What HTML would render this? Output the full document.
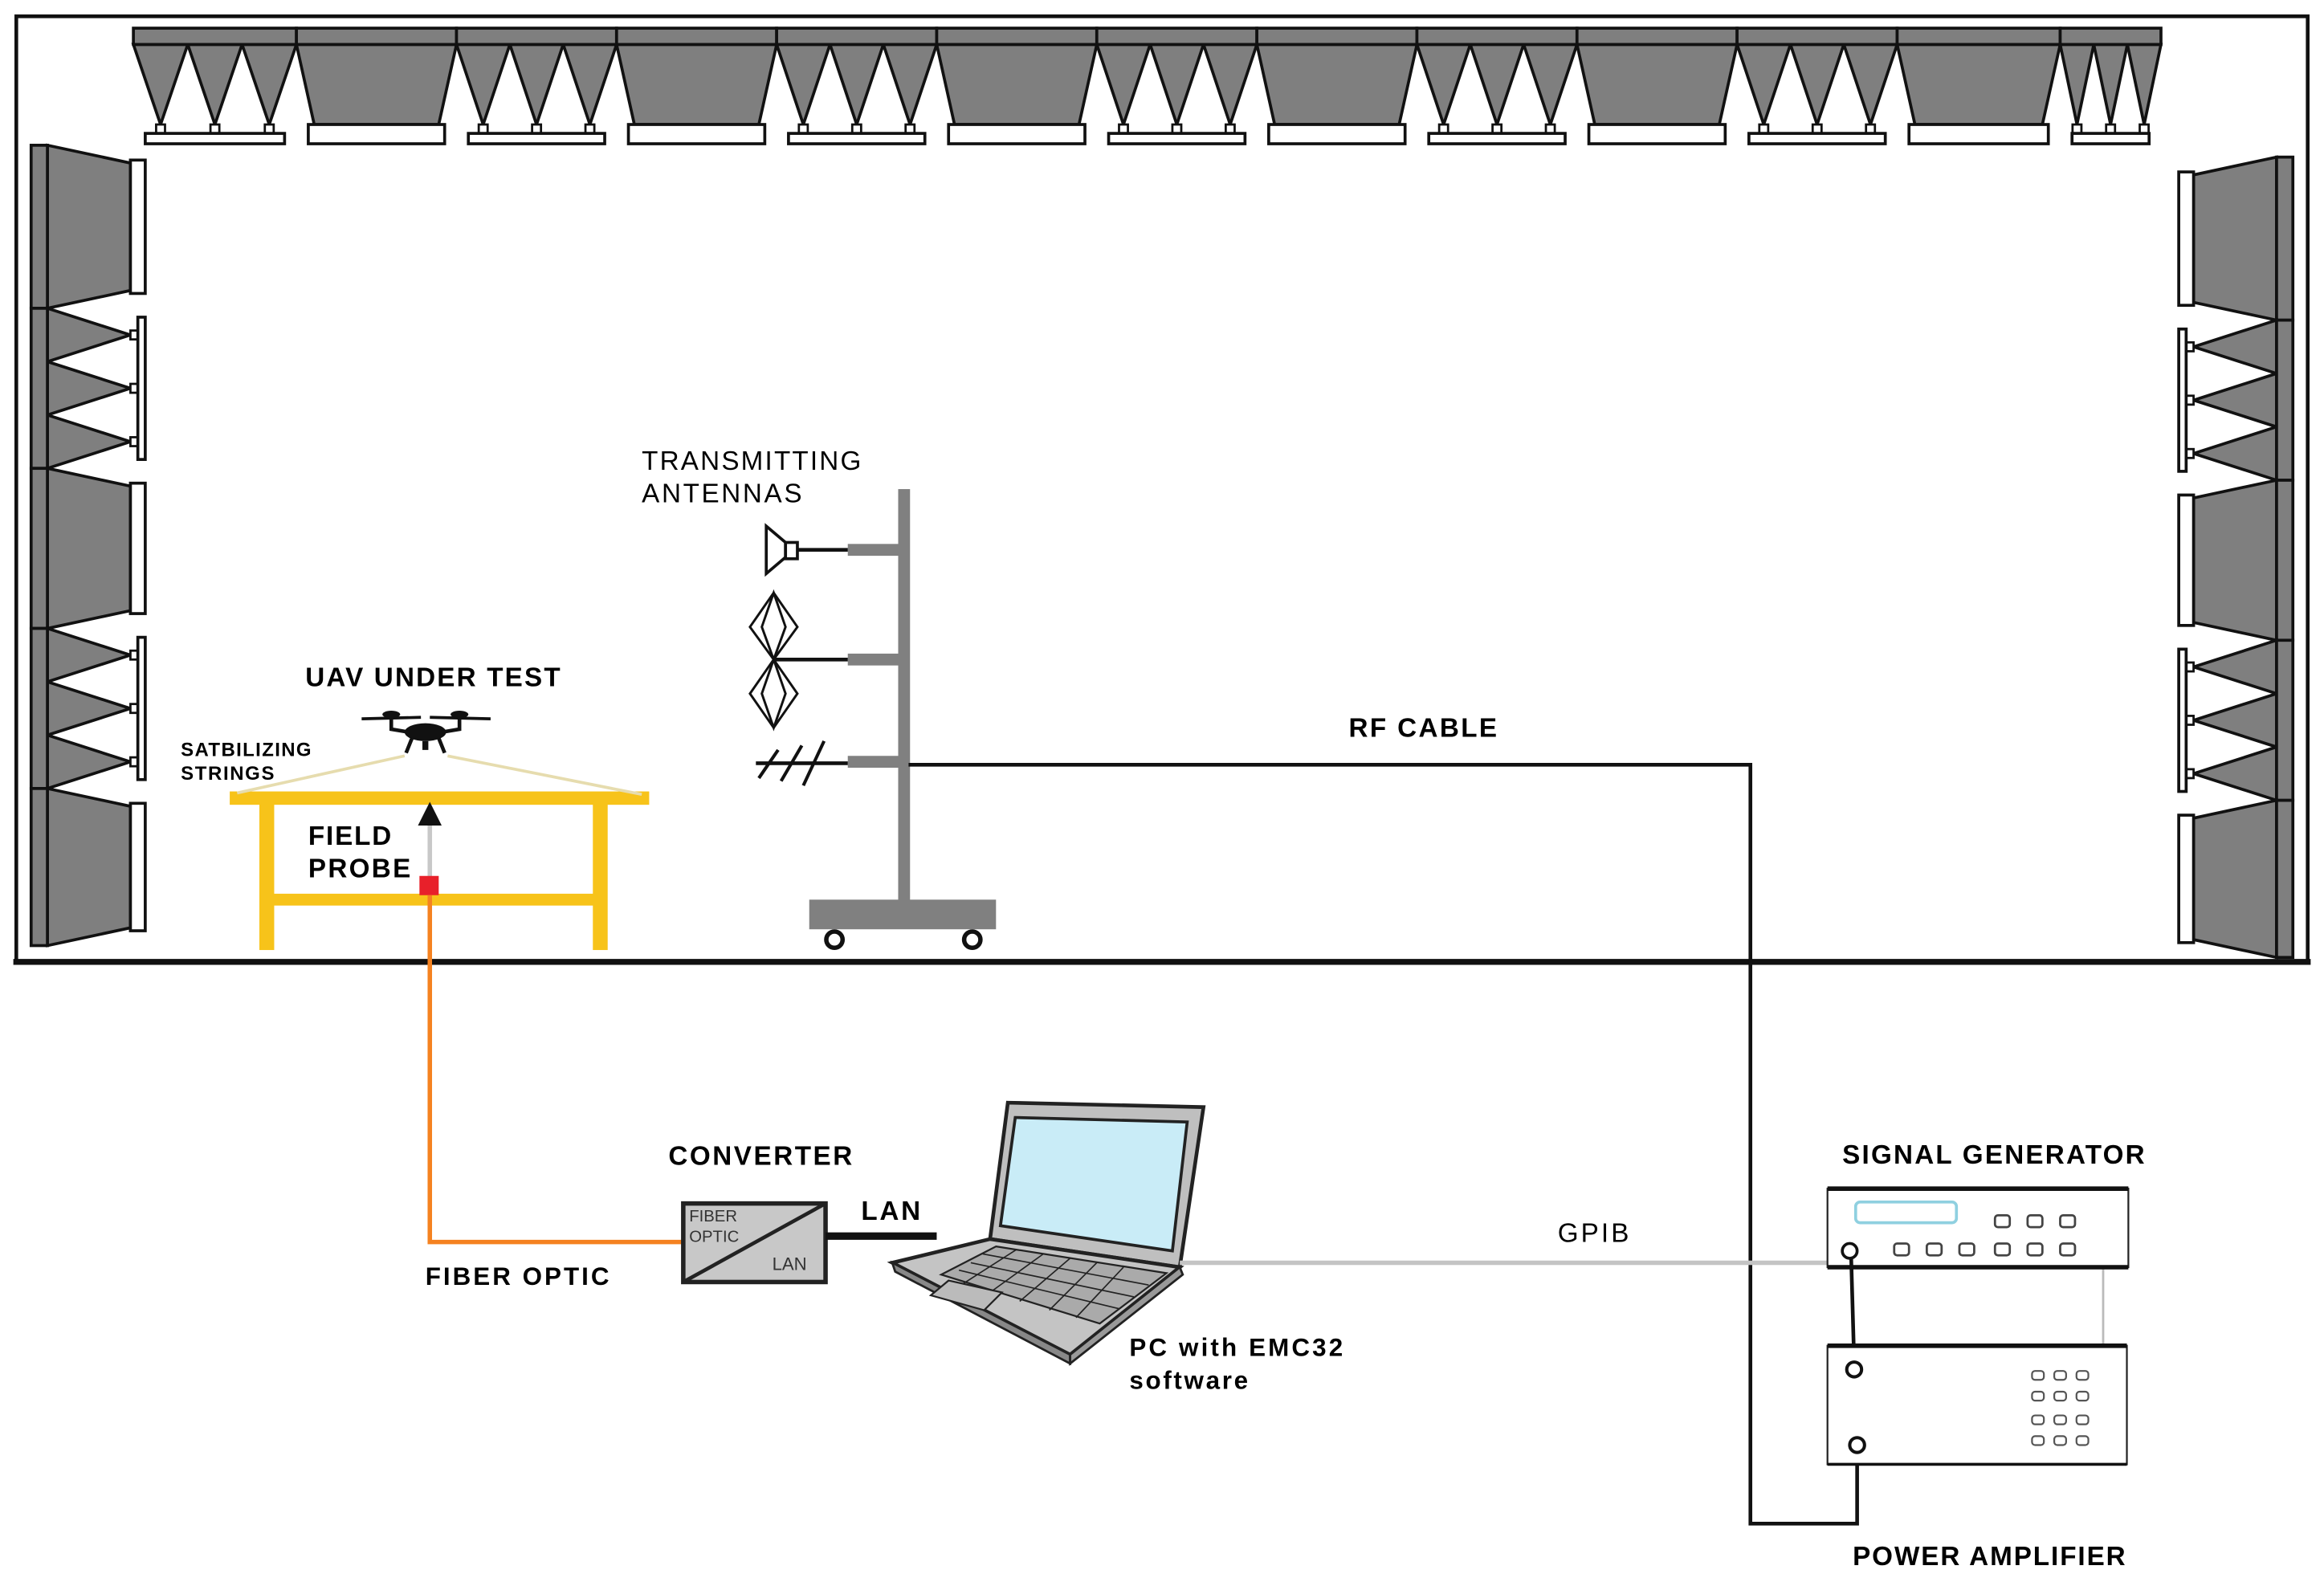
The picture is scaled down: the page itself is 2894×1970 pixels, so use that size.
<!DOCTYPE html>
<html><head><meta charset="utf-8"><style>
html,body{margin:0;padding:0;background:#fff;}
svg{display:block;}
text{font-family:"Liberation Sans",Arial,sans-serif;}
.b{font-weight:bold;}
</style></head><body>
<svg id="s" width="2894" height="1970" viewBox="0 0 1568 1067.4" preserveAspectRatio="none" xmlns="http://www.w3.org/2000/svg">
<rect x="0" y="0" width="1568" height="1068" fill="#fff"/>
<rect x="11" y="11" width="1546" height="638" fill="none" stroke="#111" stroke-width="2.5"/>
<line x1="9" y1="649" x2="1559" y2="649" stroke="#111" stroke-width="4"/>
<g id="topg"></g>
<g id="leftg"></g>
<g id="rightg" transform="translate(1568,8) scale(-1,1)"></g>

<text x="433" y="317" font-size="18" textLength="148">TRANSMITTING</text>
<text x="433" y="339" font-size="18" textLength="108">ANTENNAS</text>
<rect x="606" y="330" width="8" height="282" fill="#808080"/>
<rect x="572" y="367" width="36" height="8" fill="#808080"/>
<rect x="572" y="441" width="36" height="8" fill="#808080"/>
<rect x="572" y="510" width="36" height="8" fill="#808080"/>
<polygon points="517,355 530,366 530,376 517,387" fill="#fff" stroke="#111" stroke-width="2"/>
<rect x="530" y="366" width="8" height="11" fill="#fff" stroke="#111" stroke-width="2"/>
<line x1="538" y1="371" x2="572" y2="371" stroke="#111" stroke-width="2.5"/>
<g fill="none" stroke="#111" stroke-width="1.6">
<polygon points="522,400 538,423 522,445 506,423"/>
<polygon points="522,400 530,423 522,445 514,423"/>
<polygon points="522,445 538,468 522,491 506,468"/>
<polygon points="522,445 530,468 522,491 514,468"/>
</g>
<line x1="522" y1="445" x2="572" y2="445" stroke="#111" stroke-width="2.5"/>
<line x1="510" y1="515" x2="572" y2="515" stroke="#111" stroke-width="2.5"/>
<g stroke="#111" stroke-width="2.2"><line x1="512" y1="525" x2="525" y2="506"/><line x1="527" y1="527" x2="541" y2="503"/><line x1="542" y1="530" x2="556" y2="500"/></g>
<rect x="546" y="607" width="126" height="20" fill="#808080"/>
<circle cx="563" cy="634" r="5.5" fill="#fff" stroke="#111" stroke-width="3"/>
<circle cx="656" cy="634" r="5.5" fill="#fff" stroke="#111" stroke-width="3"/>

<polyline points="613,516 1181,516 1181,1028 1253,1028 1253,980" fill="none" stroke="#111" stroke-width="2.5"/>
<text x="910" y="497" font-size="18" class="b" textLength="100">RF CABLE</text>

<g fill="#f7c31a">
<rect x="155" y="534" width="283" height="9"/>
<rect x="175" y="542" width="10" height="99"/>
<rect x="400" y="542" width="10" height="99"/>
<rect x="184" y="603" width="217" height="8"/>
</g>
<line x1="273" y1="510" x2="160" y2="535" stroke="#e6dcae" stroke-width="2"/>
<line x1="302" y1="510" x2="433" y2="536" stroke="#e6dcae" stroke-width="2"/>
<g fill="#111" stroke="#111">
<ellipse cx="287" cy="494" rx="14" ry="6" stroke="none"/>
<path d="M264,485 L264,492 L276,494 M310,485 L310,492 L298,494" fill="none" stroke-width="2.5"/>
<line x1="244" y1="485" x2="284" y2="484" stroke-width="2"/>
<line x1="290" y1="484" x2="331" y2="485" stroke-width="2"/>
<ellipse cx="264" cy="482" rx="6" ry="2.5" stroke="none"/>
<ellipse cx="310" cy="482" rx="6" ry="2.5" stroke="none"/>
<path d="M278,498 L274,508 M296,498 L300,508" stroke-width="2.5" fill="none"/>
<rect x="285" y="500" width="4" height="6" stroke="none"/>
</g>
<text x="206" y="463" font-size="18" class="b" textLength="172">UAV UNDER TEST</text>
<text x="122" y="510" font-size="13" class="b" textLength="88">SATBILIZING</text>
<text x="122" y="526" font-size="13" class="b" textLength="63">STRINGS</text>
<line x1="290" y1="556" x2="290" y2="592" stroke="#c8c8c8" stroke-width="3"/>
<polygon points="290,541 298,557 282,557" fill="#111"/>
<rect x="283" y="591" width="13" height="13" fill="#e8202a"/>
<text x="208" y="570" font-size="18" class="b" textLength="56">FIELD</text>
<text x="208" y="592" font-size="18" class="b" textLength="69">PROBE</text>
<polyline points="290,604 290,838 461,838" fill="none" stroke="#f58220" stroke-width="3"/>
<text x="287" y="867" font-size="17" class="b" textLength="124">FIBER OPTIC</text>

<text x="451" y="786" font-size="18" class="b" textLength="124">CONVERTER</text>
<rect x="461" y="812" width="96" height="53" fill="#c8c8c8" stroke="#222" stroke-width="3"/>
<line x1="461" y1="865" x2="557" y2="812" stroke="#222" stroke-width="2.5"/>
<text x="465" y="824" font-size="11" fill="#333">FIBER</text>
<text x="465" y="838" font-size="11" fill="#333">OPTIC</text>
<text x="521" y="857" font-size="12" fill="#333">LAN</text>
<line x1="557" y1="834" x2="632" y2="834" stroke="#111" stroke-width="5"/>
<text x="581" y="823" font-size="18" class="b" textLength="40">LAN</text>

<polygon points="680,744 812,747 796,855 668,836" fill="#bfbfbf" stroke="#222" stroke-width="2.5"/>
<polygon points="685,754 801,757 791,844 675,827" fill="#c9ecf7" stroke="#222" stroke-width="2"/>
<polygon points="668,836 796,855 722,914 602,852" fill="#c4c4c4" stroke="#222" stroke-width="2.5"/>
<polygon points="602,852 722,914 722,920 604,858" fill="#888" stroke="#222" stroke-width="1.5"/>
<polygon points="796,855 722,914 722,920 798,860" fill="#999" stroke="#222" stroke-width="1.5"/>
<polygon points="672,841 787,859 742,893 635,860" fill="#aaa" stroke="#222" stroke-width="1.2"/>
<g stroke="#222" stroke-width="0.9">
<line x1="663" y1="846" x2="775" y2="867"/><line x1="655" y1="852" x2="765" y2="875"/><line x1="647" y1="857" x2="755" y2="883"/>
<line x1="686" y1="843" x2="650" y2="866"/><line x1="704" y1="846" x2="668" y2="872"/><line x1="722" y1="849" x2="688" y2="878"/><line x1="740" y1="852" x2="708" y2="884"/><line x1="758" y1="855" x2="726" y2="889"/>
</g>
<polygon points="640,864 676,872 664,884 628,874" fill="#bbb" stroke="#222" stroke-width="1.2"/>
<text x="762" y="915" font-size="17" class="b" textLength="144">PC with EMC32</text>
<text x="762" y="937" font-size="17" class="b" textLength="80">software</text>

<line x1="796" y1="852" x2="1233" y2="852" stroke="#c4c4c4" stroke-width="3"/>
<text x="1051" y="838" font-size="18" textLength="48">GPIB</text>
<line x1="1419" y1="855" x2="1419" y2="907" stroke="#bbb" stroke-width="1.5"/>

<text x="1243" y="785" font-size="18" class="b" textLength="204">SIGNAL GENERATOR</text>
<rect x="1233" y="802" width="203" height="53" fill="#fff" stroke="#222" stroke-width="1.2"/>
<line x1="1233" y1="802" x2="1436" y2="802" stroke="#111" stroke-width="3"/>
<line x1="1233" y1="855" x2="1436" y2="855" stroke="#111" stroke-width="3"/>
<rect x="1252" y="811" width="68" height="14" rx="3" fill="#fff" stroke="#8fd0e0" stroke-width="2"/>
<g fill="#fff" stroke="#444" stroke-width="1.5" id="sgb"></g>
<circle cx="1248" cy="844" r="5" fill="#fff" stroke="#111" stroke-width="2"/>
<line x1="1249" y1="849" x2="1251" y2="919" stroke="#111" stroke-width="2.5"/>

<rect x="1233" y="908" width="202" height="80" fill="#fff" stroke="#222" stroke-width="1.2"/>
<line x1="1233" y1="908" x2="1435" y2="908" stroke="#111" stroke-width="3"/>
<line x1="1233" y1="988" x2="1435" y2="988" stroke="#111" stroke-width="2"/>
<g fill="#fff" stroke="#555" stroke-width="1.2" id="pab"></g>
<circle cx="1251" cy="924" r="5" fill="#fff" stroke="#111" stroke-width="2.2"/>
<circle cx="1253" cy="975" r="5" fill="#fff" stroke="#111" stroke-width="2.2"/>
<text x="1250" y="1056" font-size="18" class="b" textLength="184">POWER AMPLIFIER</text>
</svg>
<script>
(function(){
var NS="http://www.w3.org/2000/svg";
function el(p,t,a){var e=document.createElementNS(NS,t);for(var k in a)e.setAttribute(k,a[k]);p.appendChild(e);return e;}
var G="#7f7f7f",K="#111";
var topG=document.getElementById("topg");
var bounds=[90,200,308,416,524,632,740,848,956,1064,1172,1280,1390,1458];
for(var i=0;i<bounds.length-1;i++){
 var x0=bounds[i],x1=bounds[i+1],w=x1-x0;
 var pyr=(i%2==0);
 if(pyr){
  for(var j=0;j<3;j++){var a=x0+j*w/3,b=a+w/3,c=(a+b)/2;
   el(topG,"polygon",{points:a+",30 "+b+",30 "+c+",84",fill:G,stroke:K,"stroke-width":2});
   el(topG,"rect",{x:c-3,y:84,width:6,height:6,fill:"#fff",stroke:K,"stroke-width":1.5});}
  el(topG,"rect",{x:x0+8,y:90,width:w-16,height:7,fill:"#fff",stroke:K,"stroke-width":2});
 }else{
  el(topG,"polygon",{points:x0+",30 "+x1+",30 "+(x1-12)+",84 "+(x0+12)+",84",fill:G,stroke:K,"stroke-width":2});
  el(topG,"rect",{x:x0+8,y:84,width:w-16,height:13,fill:"#fff",stroke:K,"stroke-width":2});
 }
 el(topG,"rect",{x:x0,y:19,width:w,height:11,fill:G,stroke:K,"stroke-width":2});
}
function wall(g){
 var yb=[98,208,316,424,532,638];
 for(var i=0;i<5;i++){
  var y0=yb[i],y1=yb[i+1],h=y1-y0;
  if(i%2==1){
   for(var j=0;j<3;j++){var a=y0+j*h/3,b=a+h/3,c=(a+b)/2;
    el(g,"polygon",{points:"32,"+a+" 32,"+b+" 88,"+c,fill:G,stroke:K,"stroke-width":2});
    el(g,"rect",{x:88,y:c-3,width:5,height:6,fill:"#fff",stroke:K,"stroke-width":1.5});}
   el(g,"rect",{x:93,y:y0+6,width:5,height:h-12,fill:"#fff",stroke:K,"stroke-width":2});
  }else{
   el(g,"polygon",{points:"32,"+y0+" 32,"+y1+" 88,"+(y1-12)+" 88,"+(y0+12),fill:G,stroke:K,"stroke-width":2});
   el(g,"rect",{x:88,y:y0+10,width:10,height:h-20,fill:"#fff",stroke:K,"stroke-width":2});
  }
  el(g,"rect",{x:21,y:y0,width:11,height:h,fill:G,stroke:K,"stroke-width":2});
 }
}
wall(document.getElementById("leftg"));wall(document.getElementById("rightg"));
var sg=document.getElementById("sgb");
[1346,1368,1390].forEach(function(x){el(sg,"rect",{x:x,y:820,width:10,height:8,rx:2});});
[1278,1300,1322,1346,1368,1390].forEach(function(x){el(sg,"rect",{x:x,y:839,width:10,height:8,rx:2});});
var pa=document.getElementById("pab");
[925,939,955,969].forEach(function(y){[1371,1386,1401].forEach(function(x){el(pa,"rect",{x:x,y:y,width:8,height:6,rx:2});});});
})();
</script>
</body></html>
